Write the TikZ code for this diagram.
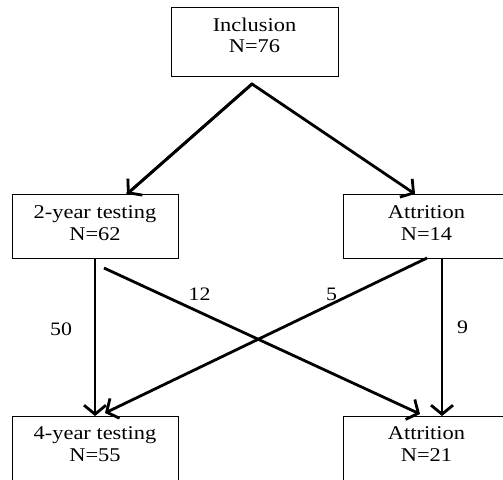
\documentclass[tikz,border=0pt]{standalone}
\usepackage{fontspec}
\setmainfont{Liberation Serif}[FakeStretch=1.15]
\usetikzlibrary{arrows.meta}
\begin{document}
\begin{tikzpicture}[x=1pt,y=-1pt,
  box/.style={draw, line width=1pt, minimum width=#1, inner sep=0pt},
  txt/.style={anchor=base, inner sep=0pt, font=\fontsize{19.5}{22}\selectfont},
  num/.style={anchor=base, inner sep=0pt, font=\fontsize{19}{22}\selectfont},
  arr/.style={line width=2.8pt, -{Straight Barb[length=9pt,width=22pt,line width=2.8pt]}}]
\clip (0,0) rectangle (503,479);
\fill[white] (0,0) rectangle (503,479);
% boxes
\node[box=167pt, minimum height=69pt] (inc) at (254.5,41.5) {};
\node[box=166pt, minimum height=64pt] (two) at (95,226) {};
\node[box=167pt, minimum height=64pt] (att1) at (426.5,226) {};
\node[box=166pt, minimum height=70pt] (four) at (95,451) {};
\node[box=167pt, minimum height=70pt] (att2) at (426.5,451) {};
% texts
\node[txt] (incA) at (254.5,31.5) {Inclusion};
\node[txt] (incB) at (254.5,52.5) {N=76};
\node[txt] (twoA) at (95,218) {2-year testing};
\node[txt] (twoB) at (95,240) {N=62};
\node[txt] (att1A) at (426.5,218) {Attrition};
\node[txt] (att1B) at (426.5,240) {N=14};
\node[txt] (fourA) at (95,439.5) {4-year testing};
\node[txt] (fourB) at (95,461) {N=55};
\node[txt] (att2A) at (426.5,439.5) {Attrition};
\node[txt] (att2B) at (426.5,461) {N=21};
% connector ends
\coordinate (apex) at (252,84);
\coordinate (twoL) at (127,194);
\coordinate (att1L) at (415,194);
\coordinate (twoS) at (95,258);
\coordinate (fourT) at (95,416);
\coordinate (att1S) at (442,258);
\coordinate (att2T) at (442,416);
\coordinate (twoX) at (104,268);
\coordinate (att2X) at (420,414);
\coordinate (att1X) at (427,258);
\coordinate (fourX) at (105,413);
% arrows
\draw[arr, line join=miter] (twoL) -- (apex) -- (att1L);
\draw[arr] (apex) -- (twoL);
\draw[arr] (twoS) -- (fourT);
\draw[arr] (att1S) -- (att2T);
\draw[arr] (twoX) -- (att2X);
\draw[arr] (att1X) -- (fourX);
% labels
\node[num] (l50) at (61,335) {50};
\node[num] (l12) at (199.5,300.5) {12};
\node[num] (l5) at (331.5,300) {5};
\node[num] (l9) at (462.5,333) {9};
\end{tikzpicture}
\end{document}
